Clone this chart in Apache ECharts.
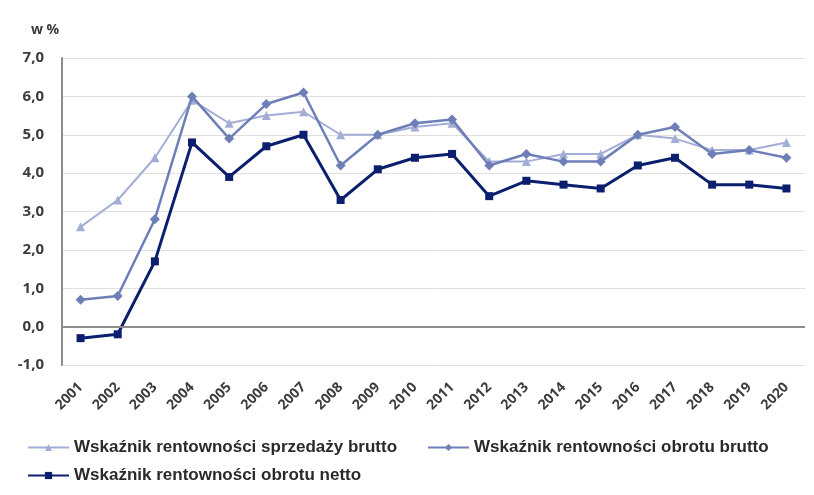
<!DOCTYPE html>
<html>
<head>
<meta charset="utf-8">
<script src="https://cdn.jsdelivr.net/npm/echarts@6/dist/echarts.min.js"></script>
<style>html,body{margin:0;padding:0;background:#fff}#c{width:814px;height:495px}</style>
</head>
<body>
<div id="c"></div>
<script>
var years = ['2001','2002','2003','2004','2005','2006','2007','2008','2009','2010','2011','2012','2013','2014','2015','2016','2017','2018','2019','2020'];
var sprzedazyBrutto = [2.6,3.3,4.4,5.9,5.3,5.5,5.6,5.0,5.0,5.2,5.3,4.3,4.3,4.5,4.5,5.0,4.9,4.6,4.6,4.8];
var obrotuBrutto = [0.7,0.8,2.8,6.0,4.9,5.8,6.1,4.2,5.0,5.3,5.4,4.2,4.5,4.3,4.3,5.0,5.2,4.5,4.6,4.4];
var obrotuNetto = [-0.3,-0.2,1.7,4.8,3.9,4.7,5.0,3.3,4.1,4.4,4.5,3.4,3.8,3.7,3.6,4.2,4.4,3.7,3.7,3.6];
var names = ['Wskaźnik rentowności sprzedaży brutto','Wskaźnik rentowności obrotu brutto','Wskaźnik rentowności obrotu netto'];
var unitLabel = 'w %';

var chart = echarts.init(document.getElementById('c'));
var yFont = {color:'#3c3c3c', fontSize:15, fontWeight:'bold', fontFamily:'Open Sans'};
var xFont = {color:'#3c3c3c', fontSize:14, fontWeight:'bold', fontFamily:'Open Sans'};
var legendText = {color:'#2a2a2a', fontSize:17, fontWeight:'bold', fontFamily:'Liberation Sans'};
chart.setOption({
  animation:false,
  title:{text:unitLabel, left:26, top:18, textStyle:{color:'#3c3c3c', fontSize:14, fontWeight:'bold', fontFamily:'Open Sans'}},
  grid:{left:62, right:9, top:58, bottom:130},
  xAxis:{type:'category', data:years, boundaryGap:true,
    axisLine:{show:false}, axisTick:{show:false},
    axisLabel:Object.assign({rotate:45, margin:20, interval:0}, xFont)},
  yAxis:{type:'value', min:-1, max:7, interval:1,
    axisLine:{show:true, lineStyle:{color:'#8c8c8c', width:2}},
    axisTick:{show:false},
    splitLine:{lineStyle:{color:'#e0e0e0', width:1}},
    axisLabel:Object.assign({margin:18, formatter:function(v){return v.toFixed(1).replace('.',',');}}, yFont)},
  legend:[
    {data:[names[0]], left:27, top:439, padding:0, itemWidth:41, itemHeight:9, textStyle:legendText},
    {data:[names[1]], left:427, top:439, padding:0, itemWidth:41, itemHeight:9, textStyle:legendText},
    {data:[names[2]], left:27, top:467, padding:0, itemWidth:41, itemHeight:9, textStyle:legendText}
  ],
  series:[
    {name:names[0], type:'line', data:sprzedazyBrutto, symbol:'triangle', symbolSize:9,
     itemStyle:{color:'#a3aed6'}, lineStyle:{color:'#a3aed6', width:2}, z:2,
     markLine:{silent:true, symbol:'none', label:{show:false},
       lineStyle:{color:'#8c8c8c', width:2, type:'solid'}, data:[{yAxis:0}]}},
    {name:names[1], type:'line', data:obrotuBrutto, symbol:'diamond', symbolSize:10,
     itemStyle:{color:'#6e7fb8'}, lineStyle:{color:'#6e7fb8', width:2.5}, z:3},
    {name:names[2], type:'line', data:obrotuNetto, symbol:'rect', symbolSize:8,
     itemStyle:{color:'#0c1f6e'}, lineStyle:{color:'#0c1f6e', width:3}, z:4}
  ]
});
</script>
</body>
</html>
